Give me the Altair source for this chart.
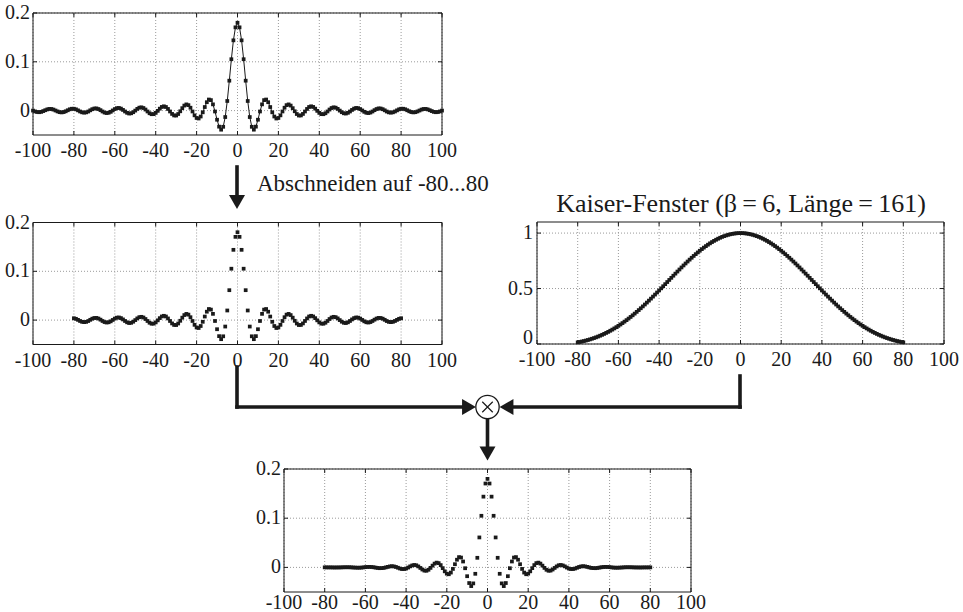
import altair as alt
import pandas as pd

FONT = "Liberation Serif"
INK = "#1a1a1a"
GRID = "#9a9a9a"

# ---------------- data ----------------
n_full = list(range(-100, 101))
sinc_full = [
    0.0000, -0.0017, -0.0029, -0.0033, -0.0026, -0.0010, 0.0008, 0.0025, 0.0034, 0.0033,
    0.0021, 0.0002, -0.0017, -0.0032, -0.0037, -0.0030, -0.0014, 0.0007, 0.0027, 0.0038,
    0.0038, 0.0026, 0.0005, -0.0018, -0.0035, -0.0042, -0.0036, -0.0019, 0.0006, 0.0029,
    0.0043, 0.0045, 0.0032, 0.0009, -0.0018, -0.0040, -0.0050, -0.0044, -0.0025, 0.0003,
    0.0031, 0.0050, 0.0054, 0.0041, 0.0014, -0.0018, -0.0045, -0.0060, -0.0055, -0.0033,
    0.0000, 0.0035, 0.0060, 0.0067, 0.0053, 0.0022, -0.0018, -0.0054, -0.0074, -0.0072,
    -0.0047, -0.0005, 0.0040, 0.0075, 0.0088, 0.0074, 0.0034, -0.0018, -0.0068, -0.0099,
    -0.0101, -0.0070, -0.0014, 0.0050, 0.0103, 0.0127, 0.0112, 0.0059, -0.0018, -0.0097,
    -0.0151, -0.0162, -0.0121, -0.0035, 0.0073, 0.0172, 0.0227, 0.0215, 0.0128, -0.0018,
    -0.0187, -0.0329, -0.0391, -0.0332, -0.0132, 0.0197, 0.0613, 0.1053, 0.1440, 0.1706,
    0.1800,
    0.1706, 0.1440, 0.1053, 0.0613, 0.0197, -0.0132, -0.0332, -0.0391, -0.0329, -0.0187,
    -0.0018, 0.0128, 0.0215, 0.0227, 0.0172, 0.0073, -0.0035, -0.0121, -0.0162, -0.0151,
    -0.0097, -0.0018, 0.0059, 0.0112, 0.0127, 0.0103, 0.0050, -0.0014, -0.0070, -0.0101,
    -0.0099, -0.0068, -0.0018, 0.0034, 0.0074, 0.0088, 0.0075, 0.0040, -0.0005, -0.0047,
    -0.0072, -0.0074, -0.0054, -0.0018, 0.0022, 0.0053, 0.0067, 0.0060, 0.0035, 0.0000,
    -0.0033, -0.0055, -0.0060, -0.0045, -0.0018, 0.0014, 0.0041, 0.0054, 0.0050, 0.0031,
    0.0003, -0.0025, -0.0044, -0.0050, -0.0040, -0.0018, 0.0009, 0.0032, 0.0045, 0.0043,
    0.0029, 0.0006, -0.0019, -0.0036, -0.0042, -0.0035, -0.0018, 0.0005, 0.0026, 0.0038,
    0.0038, 0.0027, 0.0007, -0.0014, -0.0030, -0.0037, -0.0032, -0.0017, 0.0002, 0.0021,
    0.0033, 0.0034, 0.0025, 0.0008, -0.0010, -0.0026, -0.0033, -0.0029, -0.0017, 0.0000,
]

n_cut = list(range(-80, 81))
sinc_cut = sinc_full[20:181]

kaiser = [
    0.0149, 0.0184, 0.0223, 0.0265, 0.0311, 0.0361, 0.0415, 0.0473, 0.0535, 0.0601,
    0.0672, 0.0748, 0.0828, 0.0912, 0.1001, 0.1095, 0.1194, 0.1297, 0.1406, 0.1518,
    0.1636, 0.1758, 0.1885, 0.2017, 0.2153, 0.2293, 0.2438, 0.2587, 0.2740, 0.2897,
    0.3058, 0.3223, 0.3390, 0.3561, 0.3735, 0.3912, 0.4091, 0.4273, 0.4457, 0.4643,
    0.4830, 0.5018, 0.5207, 0.5397, 0.5587, 0.5777, 0.5967, 0.6157, 0.6345, 0.6532,
    0.6717, 0.6901, 0.7082, 0.7260, 0.7436, 0.7608, 0.7776, 0.7940, 0.8101, 0.8256,
    0.8407, 0.8552, 0.8692, 0.8826, 0.8954, 0.9076, 0.9191, 0.9299, 0.9400, 0.9494,
    0.9580, 0.9659, 0.9729, 0.9792, 0.9847, 0.9894, 0.9932, 0.9962, 0.9983, 0.9996,
    1.0000,
    0.9996, 0.9983, 0.9962, 0.9932, 0.9894, 0.9847, 0.9792, 0.9729, 0.9659, 0.9580,
    0.9494, 0.9400, 0.9299, 0.9191, 0.9076, 0.8954, 0.8826, 0.8692, 0.8552, 0.8407,
    0.8256, 0.8101, 0.7940, 0.7776, 0.7608, 0.7436, 0.7260, 0.7082, 0.6901, 0.6717,
    0.6532, 0.6345, 0.6157, 0.5967, 0.5777, 0.5587, 0.5397, 0.5207, 0.5018, 0.4830,
    0.4643, 0.4457, 0.4273, 0.4091, 0.3912, 0.3735, 0.3561, 0.3390, 0.3223, 0.3058,
    0.2897, 0.2740, 0.2587, 0.2438, 0.2293, 0.2153, 0.2017, 0.1885, 0.1758, 0.1636,
    0.1518, 0.1406, 0.1297, 0.1194, 0.1095, 0.1001, 0.0912, 0.0828, 0.0748, 0.0672,
    0.0601, 0.0535, 0.0473, 0.0415, 0.0361, 0.0311, 0.0265, 0.0223, 0.0184, 0.0149,
]

windowed = [
    0.0001, 0.0000, 0.0000, 0.0000, -0.0001, -0.0002, -0.0001, -0.0001, 0.0000, 0.0002,
    0.0003, 0.0003, 0.0003, 0.0001, -0.0002, -0.0004, -0.0006, -0.0006, -0.0004, 0.0000,
    0.0005, 0.0009, 0.0010, 0.0008, 0.0003, -0.0004, -0.0011, -0.0016, -0.0015, -0.0010,
    0.0000, 0.0011, 0.0020, 0.0024, 0.0020, 0.0009, -0.0007, -0.0023, -0.0033, -0.0033,
    -0.0023, -0.0003, 0.0021, 0.0040, 0.0049, 0.0043, 0.0020, -0.0011, -0.0043, -0.0065,
    -0.0068, -0.0048, -0.0010, 0.0036, 0.0077, 0.0097, 0.0087, 0.0047, -0.0015, -0.0080,
    -0.0127, -0.0139, -0.0105, -0.0031, 0.0065, 0.0156, 0.0209, 0.0200, 0.0120, -0.0017,
    -0.0179, -0.0318, -0.0380, -0.0325, -0.0130, 0.0195, 0.0609, 0.1049, 0.1438, 0.1705,
    0.1800,
    0.1705, 0.1438, 0.1049, 0.0609, 0.0195, -0.0130, -0.0325, -0.0380, -0.0318, -0.0179,
    -0.0017, 0.0120, 0.0200, 0.0209, 0.0156, 0.0065, -0.0031, -0.0105, -0.0139, -0.0127,
    -0.0080, -0.0015, 0.0047, 0.0087, 0.0097, 0.0077, 0.0036, -0.0010, -0.0048, -0.0068,
    -0.0065, -0.0043, -0.0011, 0.0020, 0.0043, 0.0049, 0.0040, 0.0021, -0.0003, -0.0023,
    -0.0033, -0.0033, -0.0023, -0.0007, 0.0009, 0.0020, 0.0024, 0.0020, 0.0011, 0.0000,
    -0.0010, -0.0015, -0.0016, -0.0011, -0.0004, 0.0003, 0.0008, 0.0010, 0.0009, 0.0005,
    0.0000, -0.0004, -0.0006, -0.0006, -0.0004, -0.0002, 0.0001, 0.0003, 0.0003, 0.0003,
    0.0002, 0.0000, -0.0001, -0.0001, -0.0002, -0.0001, 0.0000, 0.0000, 0.0000, 0.0001,
]

x_ticks = [-100, -80, -60, -40, -20, 0, 20, 40, 60, 80, 100]
x_tick_labels = ["-100", "-80", "-60", "-40", "-20", "0", "20", "40", "60", "80", "100"]
sinc_y_ticks = [0, 0.1, 0.2]
sinc_y_labels = ["0", "0.1", "0.2"]
kaiser_y_ticks = [0, 0.5, 1]
kaiser_y_labels = ["0", "0.5", "1"]

title_kaiser = "Kaiser-Fenster (β\u2009=\u20096, Länge\u2009=\u2009161)"
label_cut = "Abschneiden auf -80...80"

# ---------------- panels ----------------
TICK = 4
LABEL_SIZE = 20


def panel(box, ydom, yticks, ylabels, n_vals, y_vals, with_line, xlab_dy=22, raise_bottom=False):
    L, R, T, B = box
    xs = alt.Scale(domain=[-100, 100], range=[L, R], nice=False, zero=False)
    ys = alt.Scale(domain=ydom, range=[B, T], nice=False, zero=False)
    y0, y1 = ydom
    xt = pd.DataFrame({"t": x_ticks, "lab": x_tick_labels})
    yt = pd.DataFrame({"t": yticks, "lab": ylabels})
    d = pd.DataFrame({"n": n_vals, "v": y_vals})

    def XF(f):
        return alt.X(f, type="quantitative", scale=xs, axis=None)

    def YF(f):
        return alt.Y(f, type="quantitative", scale=ys, axis=None)

    def XD(v):
        return alt.X(datum=v, type="quantitative", scale=xs, axis=None)

    def YD(v):
        return alt.Y(datum=v, type="quantitative", scale=ys, axis=None)

    layers = []
    # dotted grid
    layers.append(alt.Chart(xt).mark_rule(color=GRID, strokeWidth=1, strokeDash=[1, 2]).encode(
        x=XF("t"), y=YD(y0), y2=alt.Y2(datum=y1)))
    layers.append(alt.Chart(yt).mark_rule(color=GRID, strokeWidth=1, strokeDash=[1, 2]).encode(
        y=YF("t"), x=XD(-100), x2=alt.X2(datum=100)))
    # inward ticks on all four sides
    layers.append(alt.Chart(xt).mark_rule(color=INK, strokeWidth=1, y2Offset=-TICK).encode(
        x=XF("t"), y=YD(y0), y2=alt.Y2(datum=y0)))
    layers.append(alt.Chart(xt).mark_rule(color=INK, strokeWidth=1, y2Offset=TICK).encode(
        x=XF("t"), y=YD(y1), y2=alt.Y2(datum=y1)))
    layers.append(alt.Chart(yt).mark_rule(color=INK, strokeWidth=1, x2Offset=TICK).encode(
        y=YF("t"), x=XD(-100), x2=alt.X2(datum=-100)))
    layers.append(alt.Chart(yt).mark_rule(color=INK, strokeWidth=1, x2Offset=-TICK).encode(
        y=YF("t"), x=XD(100), x2=alt.X2(datum=100)))
    # frame
    layers.append(alt.Chart(xt.head(1)).mark_rect(fillOpacity=0, stroke=INK, strokeWidth=1).encode(
        x=XD(-100), x2=alt.X2(datum=100), y=YD(y0), y2=alt.Y2(datum=y1)))
    # x tick labels
    layers.append(alt.Chart(xt).mark_text(font=FONT, fontSize=LABEL_SIZE, color=INK, align="center",
                                          baseline="alphabetic", dy=xlab_dy).encode(
        x=XF("t"), y=YD(y0), text="lab:N"))
    # y tick labels
    if raise_bottom:
        yt_mid = yt[yt["t"] != y0]
        yt_low = yt[yt["t"] == y0]
        layers.append(alt.Chart(yt_mid).mark_text(font=FONT, fontSize=LABEL_SIZE, color=INK, align="right",
                                                  baseline="middle", dx=-4).encode(
            y=YF("t"), x=XD(-100), text="lab:N"))
        layers.append(alt.Chart(yt_low).mark_text(font=FONT, fontSize=LABEL_SIZE, color=INK, align="right",
                                                  baseline="alphabetic", dx=-4, dy=0).encode(
            y=YF("t"), x=XD(-100), text="lab:N"))
    else:
        layers.append(alt.Chart(yt).mark_text(font=FONT, fontSize=LABEL_SIZE, color=INK, align="right",
                                              baseline="middle", dx=-3).encode(
            y=YF("t"), x=XD(-100), text="lab:N"))
    # data
    if with_line:
        layers.append(alt.Chart(d).mark_line(color=INK, strokeWidth=1).encode(
            x=XF("n"), y=YF("v")))
    layers.append(alt.Chart(d).mark_square(color=INK, size=14, opacity=1).encode(
        x=XF("n"), y=YF("v")))
    return layers


sinc_dom = [-0.05, 0.2]
layers = []
layers += panel((33, 442, 13, 135), sinc_dom, sinc_y_ticks, sinc_y_labels, n_full, sinc_full, True)
layers += panel((33, 442, 222.5, 344.5), sinc_dom, sinc_y_ticks, sinc_y_labels, n_cut, sinc_cut, False)
layers += panel((537, 944, 222, 344), [0, 1.1], kaiser_y_ticks, kaiser_y_labels, n_cut, kaiser, False,
                raise_bottom=True)
layers += panel((284, 691, 469, 592), sinc_dom, sinc_y_ticks, sinc_y_labels, n_cut, windowed, False,
                xlab_dy=17)

# ---------------- diagram annotations ----------------
one = pd.DataFrame({"k": [0]})
LW = 3.6


def seg(x1, y1, x2, y2):
    return alt.Chart(one).mark_rule(color=INK, strokeWidth=LW, strokeCap="square").encode(
        x=alt.value(x1), y=alt.value(y1), x2=alt.value(x2), y2=alt.value(y2))


def head(x, y, shape):
    return alt.Chart(one).mark_point(shape=shape, filled=True, size=256, color=INK, opacity=1).encode(
        x=alt.value(x), y=alt.value(y))


def text(x, y, s, size, align):
    return alt.Chart(one).mark_text(font=FONT, fontSize=size, color=INK, align=align,
                                    baseline="alphabetic").encode(
        x=alt.value(x), y=alt.value(y), text=alt.value(s))


layers += [
    seg(237, 167, 237, 196), head(237, 202, "triangle-down"),
    text(257, 191, label_cut, 23, "left"),
    text(741, 212, title_kaiser, 26, "center"),
    seg(237, 367, 237, 407), seg(237, 407, 463, 407), head(469, 407, "triangle-right"),
    seg(740, 376, 740, 407), seg(740, 407, 512, 407), head(506.5, 407, "triangle-left"),
    seg(487.5, 419, 487.5, 447), head(487.5, 453.5, "triangle-down"),
    alt.Chart(one).mark_point(shape="circle", size=545, filled=False, color=INK, fill="white",
                              fillOpacity=1, strokeWidth=1.3, opacity=1).encode(
        x=alt.value(487.5), y=alt.value(407)),
    alt.Chart(one).mark_point(shape="M-1,-1L1,1M-1,1L1,-1", size=110, filled=False, color=INK,
                              strokeWidth=1.2, opacity=1).encode(
        x=alt.value(487.5), y=alt.value(407)),
]

chart = alt.layer(*layers).resolve_scale(x="independent", y="independent").properties(
    width=963, height=612, padding=0, autosize=alt.AutoSizeParams(type="none"),
    background="white",
).configure_view(stroke=None).configure_text(font=FONT)

chart.save("out.html", embed_options={"renderer": "svg", "actions": False})
